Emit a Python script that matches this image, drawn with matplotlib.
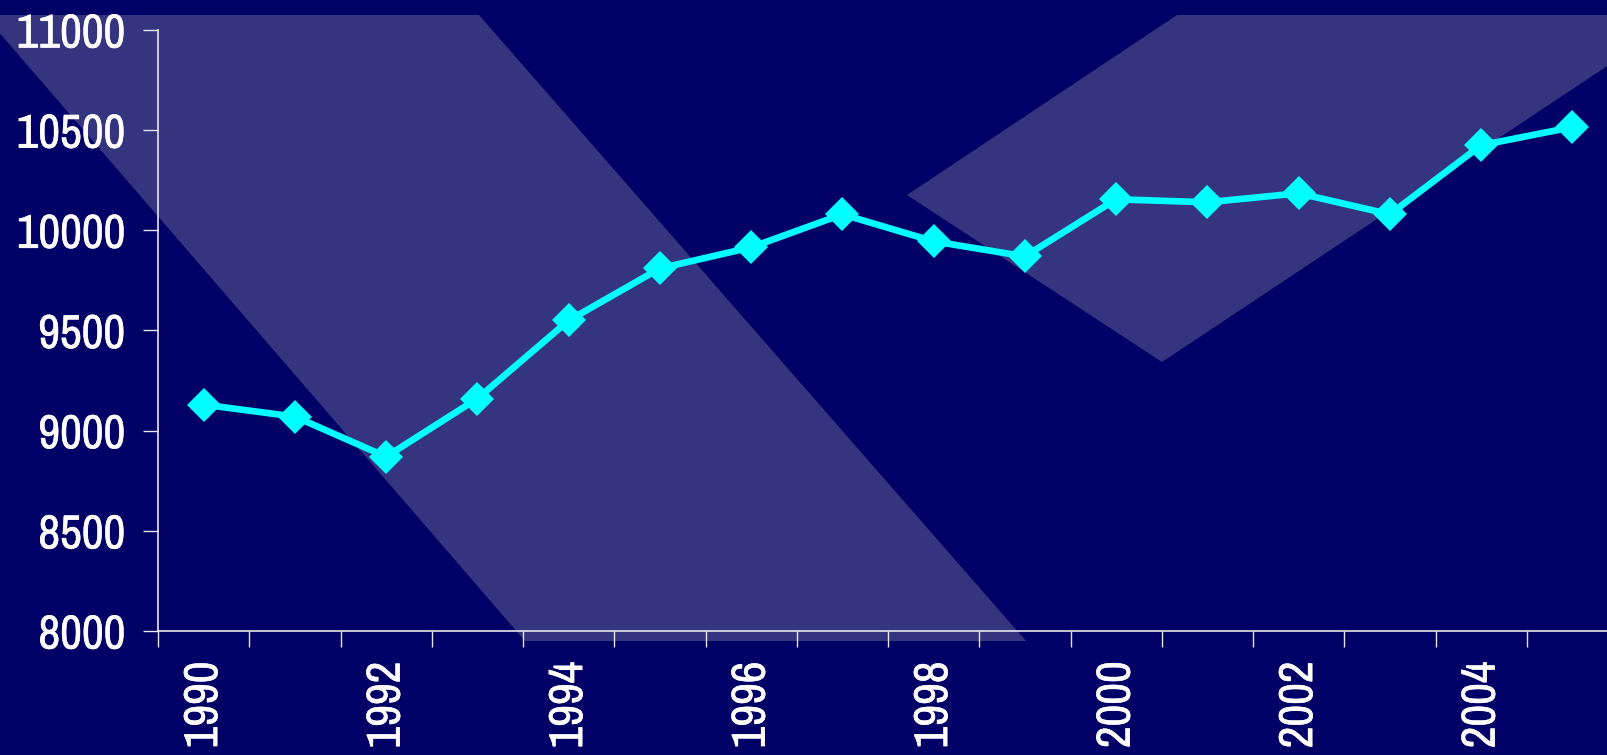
import matplotlib
matplotlib.use("Agg")
import matplotlib.pyplot as plt
from matplotlib.patches import Polygon
from matplotlib.ticker import FixedLocator, NullFormatter
from matplotlib import font_manager as fm
from matplotlib.textpath import TextPath
import matplotlib.patheffects as pe

# ---- data ----
years = [1990, 1991, 1992, 1993, 1994, 1995, 1996, 1997,
         1998, 1999, 2000, 2001, 2002, 2003, 2004, 2005]
values = [9130, 9070, 8870, 9160, 9550, 9810, 9915, 10080,
          9945, 9870, 10155, 10140, 10185, 10080, 10425, 10515]
label_years = [1990, 1992, 1994, 1996, 1998, 2000, 2002, 2004]
y_ticks = [8000, 8500, 9000, 9500, 10000, 10500, 11000]

# ---- style ----
BG = "#000066"
BAND = "#35357F"
LINE = "#00FFFF"
AX = "#E6E6EE"


def pick_font():
    fl = fm.fontManager.ttflist

    def ok(f):
        return f.style == "normal" and f.weight in (400, "normal", "regular", "book")

    for key in ("narrow", "condensed"):
        for f in fl:
            if ok(f) and (key in f.name.lower() or key in f.fname.lower()):
                return fm.FontProperties(fname=f.fname)
    for f in fl:
        if ok(f) and f.stretch in ("condensed", "semi-condensed"):
            return fm.FontProperties(fname=f.fname)
    return fm.FontProperties(family=["Roboto", "DejaVu Sans"])


fp = pick_font()
# size the labels so that "11000" is ~107 px wide and ~33 px tall
ext = TextPath((0, 0), "11000", size=100, prop=fp).get_extents()
em_w = 107 / (ext.width / 100)
em_h = 33 / (ext.height / 100)
em_px = min(em_w, (em_w + em_h) / 2)
FS = em_px * 72 / 100
fp.set_size(FS)

W, H = 1608, 755
fig = plt.figure(figsize=(W / 100, H / 100), dpi=100, facecolor=BG)


def px(poly):
    return [(x / W, 1 - y / H) for x, y in poly]


band1 = [(-16, 15), (479, 15), (1026, 641), (525, 641)]
band2 = [(907, 195), (1177, 15), (1684, 15), (1162, 362)]
for poly in (band1, band2):
    fig.patches.append(Polygon(px(poly), closed=True, transform=fig.transFigure,
                               facecolor=BAND, edgecolor="none", zorder=0))

left, right = 158, 1618
top, bottom = 30, 631
ax = fig.add_axes([left / W, 1 - bottom / H, (right - left) / W, (bottom - top) / H])
ax.set_facecolor("none")
ax.set_zorder(1)

x = list(range(len(years)))
ax.plot(x, values, color=LINE, lw=4.8, marker="D", ms=17.5, mew=0,
        mfc=LINE, clip_on=False, zorder=3)

ax.set_xlim(-0.5, len(years) - 0.5)
ax.set_ylim(8000, 11000)

for s in ("top", "right"):
    ax.spines[s].set_visible(False)
for s in ("left", "bottom"):
    ax.spines[s].set_color(AX)
    ax.spines[s].set_linewidth(1.2)

ax.set_yticks(y_ticks)
ax.set_yticklabels([str(v) for v in y_ticks])
ax.tick_params(axis="y", which="major", length=10.8, width=1.0, color=AX,
               pad=13, labelcolor="white")

ax.set_xticks([years.index(y) for y in label_years])
ax.set_xticklabels([str(y) for y in label_years], rotation=90, va="top", ha="center")
ax.xaxis.set_minor_locator(FixedLocator([i - 0.5 for i in range(len(years) + 1)]))
ax.xaxis.set_minor_formatter(NullFormatter())
ax.tick_params(axis="x", which="major", length=0, pad=22, labelcolor="white")
ax.tick_params(axis="x", which="minor", length=11.5, width=1.0, color=AX)

for lab in ax.get_xticklabels() + ax.get_yticklabels():
    lab.set_fontproperties(fp)
    lab.set_path_effects([pe.withStroke(linewidth=0.4, foreground="white")])

fig.savefig("out.png", dpi=100, facecolor=BG)
